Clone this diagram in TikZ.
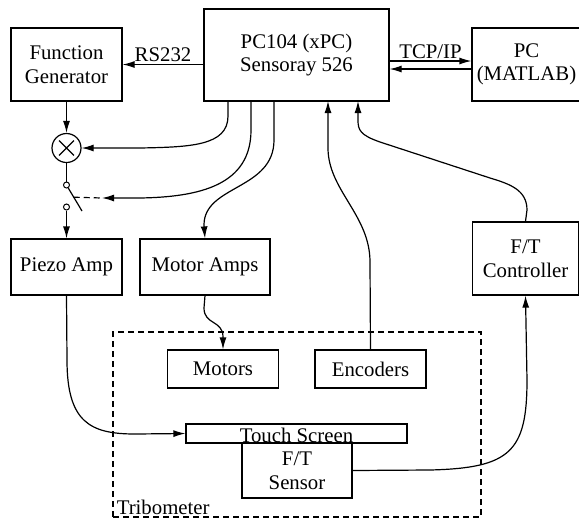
\documentclass[tikz,border=0pt]{standalone}
\usepackage{fontspec}
\setmainfont{Liberation Serif}
\usetikzlibrary{arrows.meta,positioning,calc}
\tikzset{
  % Base box
  BX/.style={rectangle,draw,line width=0.6pt,inner sep=0pt,
             text centered,align=center,
             font=\fontsize{10.4}{11.8}\selectfont},
  % Small round parts
  mulc/.style={circle,draw,line width=0.6pt,minimum size=14.5pt,inner sep=0pt},
  cont/.style={circle,draw,line width=0.5pt,minimum size=3pt,inner sep=0pt},
  % Arrow
  arr/.style={-{Latex[length=6pt,width=3.5pt]},line width=0.6pt},
  ln/.style={line width=0.6pt},
  % Label style
  LB/.style={font=\fontsize{10.4}{11.8}\selectfont,inner sep=1pt}
}
\begin{document}
\begin{tikzpicture}[x=0.5pt,y=-0.5pt]
  \useasboundingbox (0,0) rectangle (579,521);
  % system box
  \node[BX,dash pattern=on 3pt off 2pt,minimum width=184pt,minimum height=92.5pt] (trib) at (297,424.5) {};
  \node[LB,anchor=south west] at ([xshift=1pt,yshift=0.3pt]trib.south west) {Tribometer};

  \node[BX,minimum width=55.5pt,minimum height=36.5pt] (fgen)  at (66.5,64.5)  {Function\\Generator};
  \node[BX,minimum width=92.5pt,minimum height=46pt]   (xpc)   at (296.5,55)   {PC104 (xPC)\\Sensoray 526};
  \node[BX,minimum width=54.5pt,minimum height=36.5pt] (host)  at (526.5,64.5)  {PC\\(MATLAB)};
  \node[mulc] (mult) at (66.5,148) {};
  \node[cont] (c1) at (66.5,185) {};
  \node[cont] (c2) at (66.5,207) {};
  \node[BX,minimum width=55.5pt,minimum height=28pt]   (piezo) at (66.5,267)  {Piezo Amp};
  \node[BX,minimum width=65pt,minimum height=28pt]     (mamp)  at (205,267)   {Motor Amps};
  \node[BX,minimum width=53pt,minimum height=36.5pt]   (ftc)   at (525.5,258.5) {F/T\\Controller};
  \node[BX,minimum width=55.5pt,minimum height=19pt]   (mot)   at (223,369)   {Motors};
  \node[BX,minimum width=55.5pt,minimum height=19pt]   (enc)   at (370.5,369) {Encoders};
  \node[BX,minimum width=110.5pt,minimum height=9.5pt] (touch) at (296.5,433.5) {};
  \node[LB,anchor=base,inner sep=0pt] at ([yshift=0.4pt]touch.south) {Touch Screen};
  \node[BX,minimum width=55pt,minimum height=27.5pt]   (fts)   at (297,470.5) {F/T\\Sensor};

  % multiplier cross
  \draw[ln] ($(mult.center)!0.7!(mult.45)$) -- ($(mult.center)!0.7!(mult.225)$)
            ($(mult.center)!0.7!(mult.135)$) -- ($(mult.center)!0.7!(mult.315)$);
  % switch
  \coordinate (blade) at (82,211);
  \coordinate (sw) at (102,198);
  \draw[ln] (c1.-60) -- (blade);
  \draw[ln,dash pattern=on 3pt off 2pt] ($(c1.-60)!0.4!(blade)$) -- (sw);

  \draw[arr] (fgen.east -| xpc.west) -- node[LB,above]{RS232} (fgen.east);
  \draw[arr] ([yshift=1.75pt]host.west -| xpc.east) -- node[LB,above]{TCP/IP} ([yshift=1.75pt]host.west);
  \draw[arr] ([yshift=-2.25pt]host.west) -- ([yshift=-2.25pt]host.west -| xpc.east);
  \draw[arr] (fgen) -- (mult);
  \draw[ln]  (mult) -- (c1);
  \draw[arr] (c2) -- (piezo);

  \draw[arr] (228,101) -- (228,116) .. controls (228,146) and (190,147) .. (140,148) -- (mult.east);
  \draw[arr] (251,101) -- (251,130) .. controls (251,185) and (200,197) .. (140,198) -- (sw);
  \draw[arr] (274,101) -- (274,140) .. controls (274,190) and (204,185) .. (204,225) -- (mamp.north);
  \draw[arr] (mamp.south) -- (204,308) .. controls (204,325) and (223,320) .. (223,337) -- (mot.north);
  \draw[arr] (enc.north) -- (370,262) .. controls (370,215) and (328,190) .. (328,148) -- (328,101);
  \draw[arr] (ftc.north) -- (527,210) .. controls (527,190) and (510,184) .. (490,178) -- (380,142) .. controls (360,135) and (358,130) .. (358,120) -- (358,101);
  \draw[arr] (piezo.south) -- (67,360) .. controls (67,422) and (90,434) .. (135,434) -- (touch.west);
  \draw[arr] (fts.east) -- (430,470) .. controls (510,468) and (527,452) .. (527,380) -- (ftc.south);
\end{tikzpicture}
\end{document}
